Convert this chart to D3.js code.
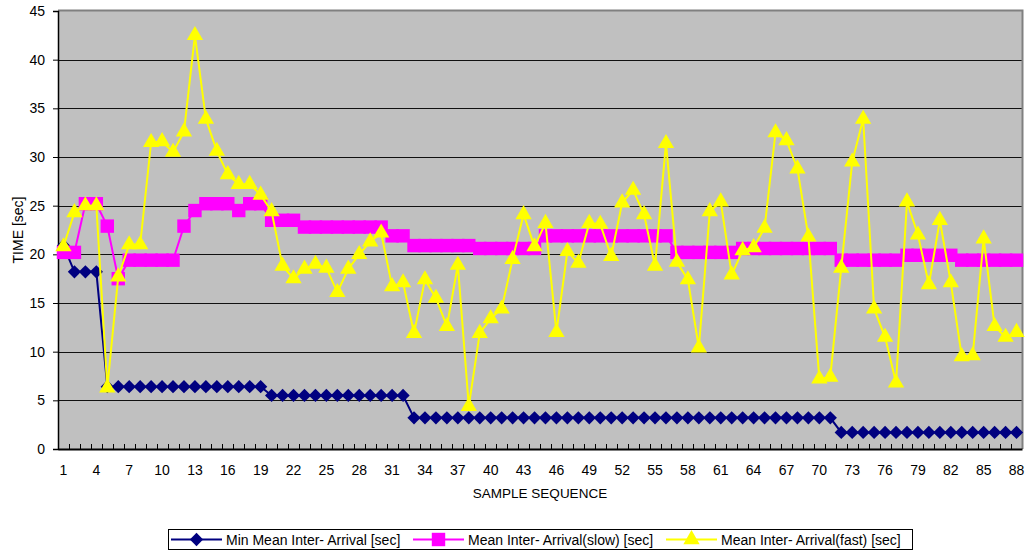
<!DOCTYPE html>
<html>
<head>
<meta charset="utf-8">
<script src="https://cdn.jsdelivr.net/npm/d3@7"></script>
<style>
  body { margin: 0; background: #fff; }
  text { font-family: "Liberation Sans", Arial, sans-serif; fill: #000; }
</style>
</head>
<body>
<script>
// sample numbers 1..88
var samples = d3.range(1, 89);

var minMean = [20.9, 18.2, 18.2, 18.2,
  6.4, 6.4, 6.4, 6.4, 6.4, 6.4, 6.4, 6.4, 6.4, 6.4, 6.4, 6.4, 6.4, 6.4, 6.4,
  5.5, 5.5, 5.5, 5.5, 5.5, 5.5, 5.5, 5.5, 5.5, 5.5, 5.5, 5.5, 5.5,
  3.2, 3.2, 3.2, 3.2, 3.2, 3.2, 3.2, 3.2, 3.2, 3.2, 3.2, 3.2, 3.2, 3.2, 3.2, 3.2, 3.2, 3.2, 3.2, 3.2,
  3.2, 3.2, 3.2, 3.2, 3.2, 3.2, 3.2, 3.2, 3.2, 3.2, 3.2, 3.2, 3.2, 3.2, 3.2, 3.2, 3.2, 3.2, 3.2,
  1.7, 1.7, 1.7, 1.7, 1.7, 1.7, 1.7, 1.7, 1.7, 1.7, 1.7, 1.7, 1.7, 1.7, 1.7, 1.7, 1.7];

var slowMean = [20.2, 20.2, 25.2, 25.2, 22.9, 17.5,
  19.4, 19.4, 19.4, 19.4, 19.4, 22.9, 24.5, 25.2, 25.2, 25.2, 24.5, 25.2, 25.2,
  23.5, 23.5, 23.5, 22.8, 22.8, 22.8, 22.8, 22.8, 22.8, 22.8, 22.8, 21.9, 21.9,
  20.9, 20.9, 20.9, 20.9, 20.9, 20.9, 20.6, 20.6, 20.6, 20.6, 20.6, 20.6,
  21.9, 21.9, 21.9, 21.9, 21.9, 21.9, 21.9, 21.9, 21.9, 21.9, 21.9, 21.9,
  20.2, 20.2, 20.2, 20.2, 20.2, 20.2,
  20.6, 20.6, 20.6, 20.6, 20.6, 20.6, 20.6, 20.6, 20.6,
  19.4, 19.4, 19.4, 19.4, 19.4, 19.4, 19.9, 19.9, 19.9, 19.9, 19.9,
  19.4, 19.4, 19.4, 19.4, 19.4, 19.4];

var fastMean = [20.8, 24.3, 25.0, 25.0, 6.3, 17.7, 21.0, 21.0, 31.5, 31.6,
  30.5, 32.6, 42.5, 33.9, 30.6, 28.2, 27.2, 27.2, 26.1, 24.4,
  18.8, 17.5, 18.5, 19.0, 18.6, 16.1, 18.5, 20.0, 21.3, 22.2,
  16.7, 17.1, 11.9, 17.4, 15.5, 12.6, 18.9, 4.4, 11.9, 13.4,
  14.4, 19.5, 24.1, 20.8, 23.2, 12.0, 20.3, 19.1, 23.2, 23.1,
  19.8, 25.3, 26.6, 24.1, 18.8, 31.4, 19.2, 17.4, 10.4, 24.4,
  25.4, 17.9, 20.4, 20.7, 22.7, 32.5, 31.7, 28.8, 21.8, 7.2,
  7.4, 18.6, 29.5, 33.9, 14.4, 11.5, 6.8, 25.4, 22.0, 16.9,
  23.5, 17.1, 9.5, 9.6, 21.6, 12.6, 11.5, 12.0];

var yTicks = [0, 5, 10, 15, 20, 25, 30, 35, 40, 45];

var seriesNames = ["Min Mean Inter- Arrival [sec]", "Mean Inter- Arrival(slow) [sec]", "Mean Inter- Arrival(fast) [sec]"];
var seriesColours = ["#000080", "#ff00ff", "#ffff00"];

var width = 1028, height = 552;
var plot = {left: 58, right: 1022, top: 11, bottom: 449};

var svg = d3.select("body")
  .append("svg")
    .attr("width", width)
    .attr("height", height);

var x = d3.scaleBand()
  .domain(samples)
  .range([plot.left, plot.right]);

var y = d3.scaleLinear()
  .domain([0, 45])
  .range([plot.bottom, plot.top]);

function cx(d) { return x(d) + x.bandwidth() / 2; }

// plot area
svg.append("rect")
  .attr("x", plot.left)
  .attr("y", plot.top)
  .attr("width", plot.right - plot.left)
  .attr("height", plot.bottom - plot.top)
  .attr("fill", "#c0c0c0");

// gridlines
svg.append("g")
  .selectAll("line")
  .data(yTicks.filter(function(d) { return d > 0 && d < 45; }))
  .enter()
    .append("line")
      .attr("x1", plot.left)
      .attr("x2", plot.right)
      .attr("y1", function(d) { return Math.round(y(d)) + 0.5; })
      .attr("y2", function(d) { return Math.round(y(d)) + 0.5; })
      .attr("stroke", "#111")
      .attr("stroke-width", 1.2);

// grey frame top and right
svg.append("path")
  .attr("d", "M" + plot.left + "," + (plot.top - 0.5) + "H" + (plot.right + 0.5) + "V" + plot.bottom)
  .attr("fill", "none")
  .attr("stroke", "#808080")
  .attr("stroke-width", 2);

// y axis
var yAxis = svg.append("g")
  .attr("transform", "translate(" + plot.left + ",0)")
  .call(d3.axisLeft(y).tickValues(yTicks).tickSize(5).tickPadding(8));
yAxis.select(".domain").attr("stroke", "#000").attr("stroke-width", 1.5);
yAxis.selectAll(".tick line").attr("stroke", "#000");
yAxis.selectAll("text")
  .style("font-family", "Liberation Sans, Arial, sans-serif")
  .style("font-size", "14px");

// x axis, labels every third sample
var xAxis = svg.append("g")
  .attr("transform", "translate(0," + plot.bottom + ")")
  .call(d3.axisBottom(x)
    .tickValues(samples.filter(function(d) { return (d - 1) % 3 == 0; }))
    .tickSize(0)
    .tickPadding(16));
xAxis.select(".domain").attr("stroke", "#000").attr("stroke-width", 2);
xAxis.selectAll("text")
  .style("font-family", "Liberation Sans, Arial, sans-serif")
  .style("font-size", "14px");

// small inward ticks between categories
svg.append("g")
  .selectAll("line")
  .data(samples.slice(1))
  .enter()
    .append("line")
      .attr("x1", function(d) { return Math.round(x(d)) + 0.5; })
      .attr("x2", function(d) { return Math.round(x(d)) + 0.5; })
      .attr("y1", plot.bottom)
      .attr("y2", plot.bottom - 5)
      .attr("stroke", "#000");

// axis titles
svg.append("text")
  .attr("transform", "translate(23," + (plot.top + plot.bottom) / 2 + ") rotate(-90)")
  .attr("text-anchor", "middle")
  .style("font-size", "14px")
  .text("TIME [sec]");

svg.append("text")
  .attr("x", (plot.left + plot.right) / 2)
  .attr("y", 498)
  .attr("text-anchor", "middle")
  .style("font-size", "13.5px")
  .text("SAMPLE SEQUENCE");

var line = d3.line()
  .x(function(d, i) { return cx(samples[i]); })
  .y(function(d) { return y(d); });

var symbols = [
  d3.symbol().type(d3.symbolDiamond2).size(112),
  d3.symbol().type(d3.symbolSquare).size(180),
  d3.symbol().type(d3.symbolTriangle).size(115)
];

var allSeries = [minMean, slowMean, fastMean];

allSeries.forEach(function(values, s) {
  var g = svg.append("g");
  g.append("path")
    .datum(values)
    .attr("d", line)
    .attr("fill", "none")
    .attr("stroke", seriesColours[s])
    .attr("stroke-width", 2);

  g.selectAll(".marker")
    .data(values)
    .enter()
      .append("path")
        .attr("class", "marker")
        .attr("transform", function(d, i) {
          return "translate(" + cx(samples[i]) + "," + y(d) + ")";
        })
        .attr("d", symbols[s])
        .attr("fill", seriesColours[s]);
});

// legend
var legend = svg.append("g");
legend.append("rect")
  .attr("x", 168.5)
  .attr("y", 529.5)
  .attr("width", 744)
  .attr("height", 20)
  .attr("fill", "#fff")
  .attr("stroke", "#000");

var legendX = [171, 413, 666];
seriesNames.forEach(function(name, s) {
  var item = legend.append("g")
    .attr("transform", "translate(" + legendX[s] + ",539.5)");
  item.append("line")
    .attr("x1", 0)
    .attr("x2", 51)
    .attr("stroke", seriesColours[s])
    .attr("stroke-width", 2);
  item.append("path")
    .attr("transform", "translate(25.5,0)")
    .attr("d", symbols[s])
    .attr("fill", seriesColours[s]);
  item.append("text")
    .attr("x", 55)
    .attr("y", 5)
    .style("font-size", "14px")
    .text(name);
});
</script>
</body>
</html>
